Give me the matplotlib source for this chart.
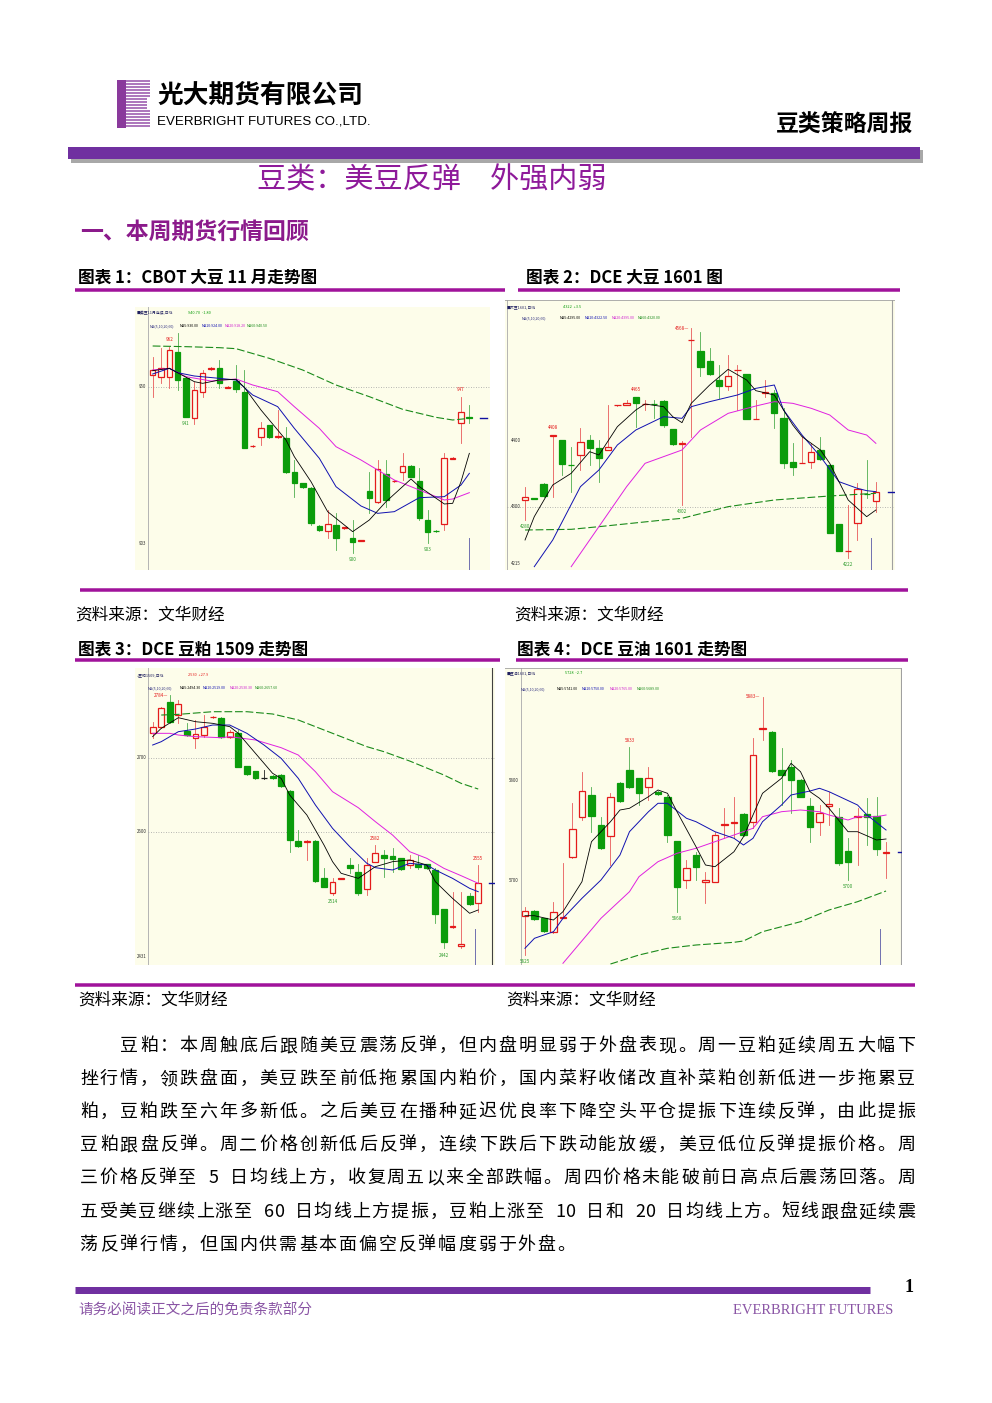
import matplotlib
matplotlib.use("Agg")
import matplotlib.pyplot as plt
from matplotlib.patches import Rectangle
import numpy as np

plt.rcParams['font.family'] = ['Noto Sans CJK SC', 'DejaVu Sans']

# 图表1 CBOT 大豆 11 月 (日K: 开 高 低 收)
c1_open = [953.5, 953.0, 953.0, 960.5, 952.5, 940.5, 948.5, 955.4, 955.5, 949.7, 951.8, 948.5, 932.1, 935.0, 938.5, 934.8, 934.7, 924.5, 921.0, 919.5,
           908.2, 906.8, 908.5, 907.6, 904.5, 903.7, 918.7, 915.5, 923.8, 921.6, 924.3, 926.2, 921.7, 910.0, 906.8, 908.7, 928.4, 939.0, 940.9]
c1_high = [959.0, 961.5, 962.0, 966.0, 953.0, 951.5, 955.0, 956.0, 958.0, 950.2, 956.5, 955.0, 932.4, 939.5, 938.5, 943.0, 938.0, 928.0, 921.2, 920.0,
           908.4, 913.0, 912.0, 908.0, 910.0, 904.0, 924.5, 928.0, 928.0, 922.0, 930.0, 926.5, 925.5, 913.0, 907.0, 930.0, 928.8, 947.0, 944.5]
c1_low = [947.0, 951.0, 949.5, 949.0, 941.0, 938.8, 947.0, 955.0, 949.5, 949.6, 948.5, 931.5, 932.0, 932.5, 934.5, 934.5, 924.0, 917.0, 919.6, 908.5,
          906.8, 904.5, 901.0, 907.4, 900.0, 903.6, 912.0, 915.0, 914.0, 921.4, 922.0, 922.8, 910.0, 903.0, 906.4, 907.0, 928.2, 933.2, 939.0]
c1_close = [955.0, 955.5, 961.0, 952.0, 941.0, 949.0, 954.0, 955.6, 951.0, 949.9, 949.2, 931.5, 932.3, 937.5, 935.0, 935.2, 924.5, 921.0, 919.8, 909.2,
            907.0, 908.7, 904.5, 907.8, 903.5, 903.9, 916.7, 925.2, 916.0, 921.8, 926.2, 923.0, 910.5, 906.5, 906.6, 928.5, 928.6, 942.5, 940.7]
c1_ma5_x = [0, 2, 5, 6, 8, 10, 11, 13, 16, 17, 19, 21, 24, 26, 28, 31, 32, 35, 36, 37, 38]
c1_ma5 = [954.8, 955.5, 951.5, 951.0, 952.0, 952.2, 949.8, 943.0, 934.0, 929.0, 921.5, 912.5, 906.5, 910.0, 915.5, 922.3, 920.0, 914.8, 915.0, 921.5, 930.0]
c1_ma10_x = [0, 2, 3, 5, 8, 10, 12, 15, 17, 20, 22, 25, 27, 29, 32, 35, 37, 38]
c1_ma10 = [953.8, 955.5, 954.2, 953.2, 952.5, 952.0, 947.5, 944.0, 937.5, 928.5, 920.0, 914.2, 912.0, 912.5, 916.7, 917.0, 920.5, 924.0]
c1_ma20_x = [0, 2, 4, 7, 10, 12, 15, 17, 20, 22, 25, 27, 29, 32, 35, 36, 38]
c1_ma20 = [955.0, 955.5, 953.0, 951.7, 952.3, 950.5, 948.5, 944.0, 937.5, 932.0, 928.0, 925.0, 922.0, 919.0, 916.0, 916.3, 918.2]
c1_ma60_x = [0, 4, 8, 10, 14, 18, 22, 26, 30, 34, 36, 38]
c1_ma60 = [962.2, 962.0, 961.7, 961.4, 958.5, 955.0, 950.5, 947.0, 943.2, 940.8, 940.0, 940.5]
c1_marks = [(2, "high"), (4, "low"), (24, "low"), (33, "low"), (37, "high")]
c1_ticks = [950, 903]
c1_grid = [950]

# 图表2 DCE 大豆 1601
c2_open = [4310, 4312.8, 4334, 4406, 4400, 4363, 4377.5, 4400, 4387.5, 4385, 4452, 4452.5, 4465, 4453.5, 4454.5, 4459, 4416, 4394, 4549.5, 4533.5,
           4518.5, 4490, 4481, 4504.5, 4499, 4431, 4471, 4470, 4433.5, 4366.5, 4365.5, 4367.5, 4385, 4362.5, 4274, 4233.5, 4275, 4319.5, 4309]
c2_high = [4330, 4313.5, 4335, 4408, 4400, 4390, 4417.5, 4407.5, 4400, 4452.5, 4453, 4460, 4465, 4460, 4460, 4460, 4416, 4398, 4567.5, 4562.5,
           4537.5, 4512.5, 4527.5, 4512.5, 4499, 4460, 4490, 4475, 4447.5, 4395, 4406, 4395, 4405, 4362.5, 4274, 4302.5, 4335, 4370, 4337.5]
c2_low = [4280, 4312, 4315, 4315, 4347.5, 4322.5, 4355, 4362.5, 4337.5, 4385, 4451.5, 4452, 4420, 4445, 4432.5, 4420, 4392, 4302.5, 4405, 4496,
          4497.5, 4462.5, 4475, 4445, 4431, 4431, 4465, 4417.5, 4357.5, 4347.5, 4365, 4357.5, 4370, 4261, 4234, 4222.5, 4250, 4312.5, 4292.5]
c2_close = [4314, 4312.2, 4316, 4407.5, 4363.5, 4362, 4397.5, 4387.5, 4372.5, 4390, 4453, 4455, 4455, 4454.5, 4453.5, 4422.5, 4394, 4396, 4550, 4510,
            4499, 4481.5, 4496, 4505, 4431, 4431.5, 4472.5, 4441, 4366, 4360, 4366, 4382.5, 4371.5, 4261, 4234, 4234, 4326, 4319, 4322.5]
c2_ma5_x = [0, 1, 3, 5, 7, 8, 10, 12, 13, 15, 16, 17, 18, 20, 22, 24, 25, 27, 29, 30, 32, 33, 35, 37, 38]
c2_ma5 = [4250, 4285, 4332.5, 4350, 4382.5, 4377.5, 4420, 4445, 4454, 4450, 4435, 4426, 4455, 4482.5, 4506, 4490, 4474, 4467.5, 4422.5, 4405,
          4385, 4365, 4310, 4285, 4295]
c2_ma10_x = [1, 3, 6, 8, 10, 12, 15, 17, 18, 20, 23, 25, 27, 28, 30, 32, 34, 36, 37, 38]
c2_ma10 = [4210, 4250, 4330, 4355, 4392.5, 4415, 4435, 4432.5, 4450, 4457.5, 4467.5, 4477.5, 4482.5, 4445, 4407.5, 4375, 4337.5, 4327.5, 4324, 4322.5]
c2_ma20_x = [5, 8, 11, 13, 17, 19, 22, 25, 27, 29, 31, 33, 35, 37, 38]
c2_ma20 = [4210, 4270, 4330, 4365, 4385, 4415, 4440, 4451, 4457.5, 4455, 4447.5, 4437.5, 4415, 4407.5, 4395]
c2_ma60_x = [0, 5, 8, 15, 17, 22, 27, 32, 33, 36, 38]
c2_ma60 = [4265, 4266, 4270, 4280, 4282.5, 4300, 4310, 4315, 4316, 4318.5, 4320]
c2_marks = [(0, "low"), (3, "high"), (12, "high"), (18, "high"), (17, "low"), (35, "low")]
c2_ticks = [4400, 4300, 4215]
c2_grid = [4300]

# 图表3 DCE 豆粕 1509
c3_open = [2732.8, 2741.8, 2775.5, 2757.5, 2735.9, 2726.9, 2730.5, 2754.4, 2753.9, 2728.3, 2732.8, 2688.7, 2681.9, 2672.0, 2675.6, 2676.5, 2654.9, 2587.9, 2586.1, 2587.9,
           2537.0, 2516.8, 2536.6, 2555.0, 2545.1, 2522.6, 2559.5, 2568.5, 2567.2, 2564.0, 2555.0, 2556.4, 2555.9, 2548.3, 2495.2, 2470.9, 2446.1, 2513.6, 2503.3]
c3_high = [2748.5, 2768.8, 2784.5, 2777.8, 2746.3, 2750.8, 2757.5, 2756.6, 2755.3, 2737.3, 2737.3, 2688.7, 2681.9, 2683.3, 2676.5, 2677.4, 2656.3, 2602.3, 2588.8, 2588.8,
           2550.5, 2537.0, 2537.9, 2564.0, 2555.9, 2564.0, 2582.0, 2575.3, 2577.5, 2564.9, 2568.5, 2568.5, 2556.8, 2550.5, 2495.2, 2519.0, 2519.0, 2516.8, 2555.0]
c3_low = [2726.9, 2739.5, 2746.3, 2746.3, 2729.6, 2713.4, 2728.3, 2753.0, 2726.9, 2726.9, 2687.8, 2676.5, 2671.1, 2671.6, 2671.1, 2660.8, 2573.0, 2579.8, 2561.8, 2532.5,
          2524.9, 2514.5, 2536.1, 2543.8, 2514.5, 2514.5, 2558.6, 2539.3, 2546.0, 2548.3, 2550.5, 2549.6, 2549.6, 2476.3, 2442.5, 2469.5, 2442.5, 2501.0, 2492.0]
c3_close = [2741.8, 2766.5, 2747.6, 2771.9, 2730.5, 2731.4, 2741.8, 2755.3, 2728.3, 2735.0, 2687.8, 2677.4, 2672.0, 2672.0, 2672.0, 2662.1, 2588.8, 2580.7, 2587.0, 2533.4,
            2525.8, 2531.6, 2537.5, 2551.4, 2517.7, 2555.0, 2570.8, 2564.9, 2563.1, 2549.2, 2561.8, 2551.9, 2550.5, 2488.4, 2451.5, 2472.7, 2447.9, 2502.4, 2530.3]
c3_ma5_x = [0, 1, 3, 5, 7, 9, 10, 12, 14, 15, 16, 18, 20, 21, 22, 24, 26, 28, 30, 32, 33, 35, 37, 38]
c3_ma5 = [2728.3, 2739.5, 2753.9, 2748.5, 2746.3, 2741.8, 2732.8, 2705.8, 2678.8, 2672.0, 2649.5, 2622.5, 2582.0, 2559.5, 2543.8, 2537.0,
          2552.8, 2559.5, 2561.8, 2555.0, 2532.5, 2510.0, 2489.8, 2494.3]
c3_ma10_x = [0, 1, 3, 5, 7, 9, 11, 13, 15, 17, 19, 21, 23, 25, 26, 28, 30, 32, 33, 35, 37, 38]
c3_ma10 = [2717.0, 2721.5, 2735.0, 2738.6, 2744.0, 2744.0, 2732.8, 2717.0, 2699.0, 2672.0, 2636.0, 2604.5, 2579.8, 2557.3, 2551.4, 2548.3,
           2557.3, 2555.0, 2548.3, 2537.0, 2523.5, 2519.0]
c3_ma20_x = [0, 2, 3, 5, 8, 9, 12, 15, 17, 19, 21, 24, 26, 28, 30, 32, 34, 36, 38]
c3_ma20 = [2732.8, 2732.8, 2730.5, 2728.3, 2726.9, 2728.3, 2723.8, 2713.4, 2703.5, 2681.0, 2654.0, 2632.4, 2613.5, 2595.5, 2573.0, 2564.0,
           2550.5, 2540.6, 2530.3]
c3_ma60_x = [1, 3, 7, 11, 14, 17, 21, 25, 27, 30, 34, 36, 38]
c3_ma60 = [2757.5, 2758.4, 2762.0, 2762.0, 2758.9, 2750.8, 2732.8, 2714.8, 2708.0, 2695.4, 2676.5, 2665.3, 2657.6]
c3_marks = [(2, "high"), (21, "low"), (26, "high"), (34, "low"), (38, "high")]
c3_ticks = [2700, 2600, 2431]
c3_grid = [2700, 2600]

# 图表4 DCE 豆油 1601
c4_open = [5664.3, 5669.0, 5661.7, 5648.3, 5661.7, 5723.3, 5763.3, 5785.0, 5755.0, 5744.0, 5797.3, 5810.0, 5801.7, 5793.3, 5788.3, 5782.7, 5739.3, 5700.0, 5725.0, 5698.3,
           5698.3, 5755.0, 5757.0, 5765.7, 5758.3, 5851.0, 5848.3, 5810.0, 5813.3, 5800.0, 5774.0, 5758.3, 5774.3, 5763.3, 5729.0, 5762.7, 5765.7, 5764.3, 5726.7]
c4_high = [5673.3, 5670.0, 5662.3, 5678.3, 5716.7, 5776.7, 5808.3, 5793.3, 5763.3, 5786.7, 5798.3, 5833.3, 5802.3, 5813.3, 5789.0, 5785.0, 5739.3, 5720.0, 5728.3, 5708.3,
           5748.3, 5771.7, 5783.3, 5766.7, 5841.7, 5883.3, 5849.0, 5831.7, 5820.0, 5800.7, 5781.7, 5775.0, 5788.3, 5771.7, 5741.7, 5771.7, 5781.7, 5783.3, 5738.3]
c4_low = [5625.0, 5660.0, 5648.3, 5646.7, 5661.7, 5722.3, 5760.0, 5748.3, 5731.0, 5715.0, 5778.3, 5791.7, 5775.0, 5780.0, 5785.0, 5738.3, 5668.3, 5691.7, 5700.0, 5676.7,
          5697.7, 5741.7, 5741.7, 5744.3, 5751.7, 5840.0, 5808.3, 5775.0, 5766.7, 5782.7, 5738.3, 5745.0, 5755.0, 5715.0, 5700.0, 5715.0, 5735.0, 5725.0, 5701.7]
c4_close = [5669.0, 5660.7, 5649.3, 5667.7, 5663.3, 5751.0, 5789.0, 5764.3, 5731.7, 5782.7, 5779.3, 5793.3, 5787.3, 5802.3, 5785.7, 5745.0, 5693.3, 5711.7, 5713.3, 5699.7,
            5745.0, 5756.3, 5758.3, 5745.0, 5825.0, 5852.3, 5809.0, 5805.0, 5800.0, 5783.3, 5753.3, 5767.3, 5775.7, 5716.7, 5717.7, 5764.0, 5763.3, 5730.7, 5728.0]
c4_ma5_x = [0, 1, 3, 4, 6, 7, 9, 10, 11, 13, 14, 15, 16, 18, 19, 20, 22, 23, 24, 25, 27, 28, 29, 30, 31, 32, 34, 35, 37, 38]
c4_ma5 = [5664.3, 5664.3, 5660.0, 5668.3, 5698.3, 5738.3, 5758.3, 5770.0, 5771.7, 5783.3, 5790.0, 5786.7, 5768.3, 5733.3, 5715.0, 5713.3,
          5728.3, 5743.3, 5765.0, 5786.7, 5801.7, 5816.7, 5808.3, 5788.3, 5781.7, 5771.7, 5748.3, 5748.3, 5740.0, 5741.0]
c4_ma10_x = [0, 1, 3, 4, 6, 8, 10, 11, 13, 14, 15, 17, 18, 20, 22, 23, 24, 25, 27, 28, 30, 31, 32, 35, 36, 38]
c4_ma10 = [5631.7, 5641.7, 5648.3, 5661.7, 5681.7, 5700.0, 5725.0, 5748.3, 5768.3, 5776.7, 5776.7, 5761.7, 5758.3, 5748.3, 5741.7, 5735.0,
           5741.7, 5758.3, 5775.0, 5785.0, 5789.0, 5791.7, 5788.3, 5775.0, 5765.0, 5750.0]
c4_ma20_x = [4, 8, 11, 12, 14, 16, 18, 20, 22, 24, 25, 27, 29, 31, 32, 34, 35, 37, 38]
c4_ma20 = [5616.7, 5661.7, 5688.3, 5703.3, 5718.3, 5726.7, 5731.7, 5738.3, 5745.0, 5751.7, 5763.3, 5768.3, 5770.0, 5768.3, 5765.0, 5760.0,
           5763.3, 5763.3, 5765.0]
c4_ma60_x = [9, 12, 15, 18, 22, 23, 25, 29, 32, 35, 38]
c4_ma60 = [5616.0, 5625.0, 5631.7, 5635.0, 5637.7, 5639.0, 5648.3, 5658.3, 5670.0, 5678.3, 5689.0]
c4_marks = [(0, "low"), (11, "high"), (16, "low"), (25, "high"), (34, "low")]
c4_ticks = [5800, 5700]
c4_grid = []

para_lines = [
    "豆粕：本周触底后跟随美豆震荡反弹，但内盘明显弱于外盘表现。周一豆粕延续周五大幅下",
    "挫行情，领跌盘面，美豆跌至前低拖累国内粕价，国内菜籽收储改直补菜粕创新低进一步拖累豆",
    "粕，豆粕跌至六年多新低。之后美豆在播种延迟优良率下降空头平仓提振下连续反弹，由此提振",
    "豆粕跟盘反弹。周二价格创新低后反弹，连续下跌后下跌动能放缓，美豆低位反弹提振价格。周",
    "三价格反弹至 5 日均线上方，收复周五以来全部跌幅。周四价格未能破前日高点后震荡回落。周",
    "五受美豆继续上涨至 60 日均线上方提振，豆粕上涨至 10 日和 20 日均线上方。短线跟盘延续震",
    "荡反弹行情，但国内供需基本面偏空反弹幅度弱于外盘。",
]

W, H = 992, 1403
BG = "#fdfdea"
RED = "#e41b1b"
GREEN = "#0b9c0b"
PURPLE = "#7030a0"
MAG = "#a0129b"


def pt(px):
    return px * 0.72


fig = plt.figure(figsize=(W / 100, H / 100), dpi=100)
page = fig.add_axes([0, 0, 1, 1])
page.set_xlim(0, W)
page.set_ylim(H, 0)
page.axis("off")


def hline(x0, x1, y, lw_px, color):
    page.plot([x0, x1], [y, y], color=color, lw=pt(lw_px), solid_capstyle="butt")


# ---- 页眉 ----
page.add_patch(Rectangle((117, 80), 9, 48, color="#8a3a9c", lw=0))
for k, y in enumerate(np.arange(81, 128, 3)):
    end = 147 if 97 < y < 111 else 150
    page.plot([126, end], [y, y], color="#9a58ad", lw=pt(1.6), solid_capstyle="butt")
page.text(157, 95, "光大期货有限公司", fontsize=18.5, fontweight="bold", va="center")
page.text(157, 122, "EVERBRIGHT FUTURES CO.,LTD.", fontsize=9.6, family="Liberation Sans", va="center")
page.text(913, 125, "豆类策略周报", fontsize=16.5, fontweight="bold", ha="right", va="center")
page.add_patch(Rectangle((71, 150), 852, 13, color="#a8a8a8", lw=0))
page.add_patch(Rectangle((68, 147), 852, 12, color=PURPLE, lw=0))

page.text(257, 180, "豆类：美豆反弹　外强内弱", fontsize=21, fontweight="medium", color="#8e1a9a", va="center")
page.text(80, 232, "一、本周期货行情回顾", fontsize=16.5, fontweight="bold", color="#8b1a8b", va="center")

titles = [(78, 277, "图表 1：CBOT 大豆 11 月走势图"), (526, 277, "图表 2：DCE 大豆 1601 图"),
          (78, 649, "图表 3：DCE 豆粕 1509 走势图"), (517, 649, "图表 4：DCE 豆油 1601 走势图")]
for x, y, s in titles:
    page.text(x, y, s, fontsize=12, fontweight="bold", va="center")

for x0, x1, y in [(75, 505, 290), (518, 900, 290), (80, 908, 590), (75, 500, 660), (516, 908, 660), (75, 915, 985)]:
    hline(x0, x1, y, 3.5, MAG)

for x, y in [(75, 615), (514, 615), (78, 1000), (506, 1000)]:
    page.text(x, y, "资料来源：文华财经", fontsize=12, va="center")


# ---- K线图 ----
def draw_chart(box, xlim, ylim, o, h, l, c, ma, marks, grid, frame, cursor_x):
    x0, y0, x1, y1 = box
    ax = fig.add_axes([x0 / W, 1 - y1 / H, (x1 - x0) / W, (y1 - y0) / H])
    ax.set_facecolor(BG)
    ax.set_xlim(*xlim)
    ax.set_ylim(*ylim)
    ax.set_xticks([])
    ax.set_yticks([])
    for s in ax.spines.values():
        s.set_visible(False)
    left = frame["left"]
    ax.plot([left, left], [ylim[0], ylim[1]], color="#b4b4b4", lw=0.7)
    if "right" in frame:
        ax.plot([frame["right"], frame["right"]], [ylim[0], ylim[1]], color=frame.get("rcol", "#a0a0a0"), lw=0.8)
    if frame.get("top"):
        ax.axhline(ylim[1], color="#a0a0a0", lw=1.2)
    for g in grid:
        ax.plot([left, xlim[1]], [g, g], color="#a0a0a0", lw=0.6, ls=(0, (1, 2)))
    # 光标竖线
    ax.plot([cursor_x, cursor_x], [ylim[0], ylim[0] + 0.12 * (ylim[1] - ylim[0])], color="#7070b0", lw=0.7)

    bw = 0.68
    for i in range(len(o)):
        if c[i] > o[i]:
            col, wcol, face = RED, "#e85a5a", BG
        elif c[i] < o[i]:
            col, wcol, face = GREEN, "#4fae4f", GREEN
        else:
            col, wcol, face = "#202020", "#202020", BG
        ax.plot([i, i], [l[i], h[i]], color=wcol, lw=0.6, zorder=2)
        lo, hi = min(o[i], c[i]), max(o[i], c[i])
        ax.add_patch(Rectangle((i - bw / 2, lo), bw, hi - lo, facecolor=face, edgecolor=col, lw=0.9, zorder=3))

    (m5x, m5), (m10x, m10), (m20x, m20), (m60x, m60) = ma
    ax.plot(m60x, m60, color="#1a8a1a", lw=0.8, ls=(0, (7, 2.5)), zorder=4)
    ax.plot(m20x, m20, color="#e020e0", lw=0.7, zorder=4)
    ax.plot(m10x, m10, color="#1010b0", lw=0.7, zorder=4)
    ax.plot(m5x, m5, color="black", lw=0.6, zorder=4)

    # 最新价标记
    n = len(c)
    ax.plot([n + 0.3, n + 1.1], [c[-1], c[-1]], color="#1010a0", lw=1.0, zorder=4)

    top_i = int(np.argmax(h))
    for i, kind in marks:
        if kind == "high":
            v = h[i]
            if i == top_i:
                ax.annotate(f"{v:.0f}—", (i, v), xytext=(-1.5, 0), textcoords="offset points",
                            ha="right", va="center", fontsize=3.3, color=RED)
            else:
                ax.annotate(f"{v:.0f}", (i, v), xytext=(0, 3), textcoords="offset points",
                            ha="center", va="bottom", fontsize=3.3, color=RED)
        else:
            v = l[i]
            ax.annotate(f"{v:.0f}", (i, v), xytext=(0, -3), textcoords="offset points",
                        ha="center", va="top", fontsize=3.3, color="#2a9a2a")
    return ax


draw_chart((135, 307, 490, 570), (-2.12, 40.48), (895.0, 973.9), c1_open, c1_high, c1_low, c1_close,
           [(c1_ma5_x, c1_ma5), (c1_ma10_x, c1_ma10), (c1_ma20_x, c1_ma20), (c1_ma60_x, c1_ma60)],
           c1_marks, c1_grid, {"left": -0.56}, 38.0)
draw_chart((505, 300, 895, 570), (-2.17, 40.07), (4205, 4610), c2_open, c2_high, c2_low, c2_close,
           [(c2_ma5_x, c2_ma5), (c2_ma10_x, c2_ma10), (c2_ma20_x, c2_ma20), (c2_ma60_x, c2_ma60)],
           c2_marks, c2_grid, {"left": -1.99, "right": 39.7, "top": True}, 37.5)
draw_chart((135, 668, 495, 965), (-2.06, 39.96), (2420, 2821), c3_open, c3_high, c3_low, c3_close,
           [(c3_ma5_x, c3_ma5), (c3_ma10_x, c3_ma10), (c3_ma20_x, c3_ma20), (c3_ma60_x, c3_ma60)],
           c3_marks, c3_grid, {"left": -0.5, "right": 39.57, "rcol": "#404040"}, 37.6)
draw_chart((505, 668, 902, 965), (-2.1, 39.68), (5615, 5912), c4_open, c4_high, c4_low, c4_close,
           [(c4_ma5_x, c4_ma5), (c4_ma10_x, c4_ma10), (c4_ma20_x, c4_ma20), (c4_ma60_x, c4_ma60)],
           c4_marks, c4_grid, {"left": -0.46, "right": 39.6, "top": True}, 37.4)

# 图内文字放在最上层
over = fig.add_axes([0, 0, 1, 1])
over.set_xlim(0, W)
over.set_ylim(H, 0)
over.axis("off")


def ticks_text(box, ylim, ticks, tick_x, tick_ha):
    x0, y0, x1, y1 = box
    for t in ticks:
        py = y0 + (ylim[1] - t) / (ylim[1] - ylim[0]) * (y1 - y0)
        over.text(tick_x, py, str(t), fontsize=3.2, color="#303030", ha=tick_ha, va="center")


def header(x_name, x_quote, x_ma, y1, y2, name, quote, qcol, ma_vals):
    over.text(x_name, y1, name, fontsize=2.8, color="#202060", va="center")
    over.text(x_quote, y1, quote, fontsize=2.8, color=qcol, va="center")
    over.text(x_ma[0], y2, "MA(5,10,20,60)", fontsize=2.6, color="#303080", va="center")
    labels = ["MA5", "MA10", "MA20", "MA60"]
    cols = ["black", "#1010b0", "#d020d0", "#1a8a1a"]
    for k in range(4):
        over.text(x_ma[k + 1], y2, f"{labels[k]}:{ma_vals[k]:.2f}", fontsize=2.6, color=cols[k], va="center")


ticks_text((135, 307, 490, 570), (895.0, 973.9), c1_ticks, 146, "right")
ticks_text((505, 300, 895, 570), (4205, 4610), c2_ticks, 511, "left")
ticks_text((135, 668, 495, 965), (2420, 2821), c3_ticks, 147, "right")
ticks_text((505, 668, 902, 965), (5615, 5912), c4_ticks, 519, "right")

header(137, 188, [150, 180, 202, 225, 247], 313, 326, "■美豆11月连续,日线",
       f"{c1_close[-1]:.2f}  {c1_close[-1] - c1_close[-2]:+.2f}", GREEN,
       [c1_ma5[-1], c1_ma10[-1], c1_ma20[-1], c1_ma60[-1]])
header(507, 563, [522, 560, 585, 612, 638], 307, 318, "■大豆1601,日线",
       f"{c2_close[-1]:.0f}  {c2_close[-1] - c2_close[-2]:+.1f}", GREEN,
       [c2_ma5[-1], c2_ma10[-1], c2_ma20[-1], c2_ma60[-1]])
header(137, 188, [148, 180, 203, 230, 255], 675, 688, "+豆粕1509,日线",
       f"{c3_close[-1]:.0f}  {c3_close[-1] - c3_close[-2]:+.1f}", RED,
       [c3_ma5[-1], c3_ma10[-1], c3_ma20[-1], c3_ma60[-1]])
header(507, 565, [521, 557, 582, 610, 637], 673, 689, "■豆油1601,日线",
       f"{c4_close[-1]:.0f}  {c4_close[-1] - c4_close[-2]:+.1f}", GREEN,
       [c4_ma5[-1], c4_ma10[-1], c4_ma20[-1], c4_ma60[-1]])


# ---- 正文 ----
def put_line(s, x0, x1, y, size_px, justify=True, gap=1.9):
    widths = [0.5 if ord(ch) < 128 else 1.0 for ch in s]
    total = sum(widths) * size_px
    if justify:
        gap = (x1 - x0 - total) / (len(s) - 1)
    x = x0
    for ch, w in zip(s, widths):
        if ch != " ":
            page.text(x, y, ch, fontsize=pt(size_px), ha="left", va="center")
        x += w * size_px + gap


ys = [1046, 1079, 1112, 1145, 1178, 1212, 1245]
for k, s in enumerate(para_lines):
    x0 = 120 if k == 0 else 80
    put_line(s, x0, 915, ys[k], 18, justify=(k < len(para_lines) - 1))

# ---- 页脚 ----
hline(75, 870, 1290, 7, PURPLE)
page.text(905, 1288, "1", fontsize=13, fontweight="bold", family="Liberation Serif", va="center")
page.text(78, 1311, "请务必阅读正文之后的免责条款部分", fontsize=10.5, color="#8a55a5", va="center")
page.text(893, 1311, "EVERBRIGHT FUTURES", fontsize=10.5, color="#8a55a5", family="Liberation Serif",
          ha="right", va="center")

fig.savefig("out.png", dpi=100)
